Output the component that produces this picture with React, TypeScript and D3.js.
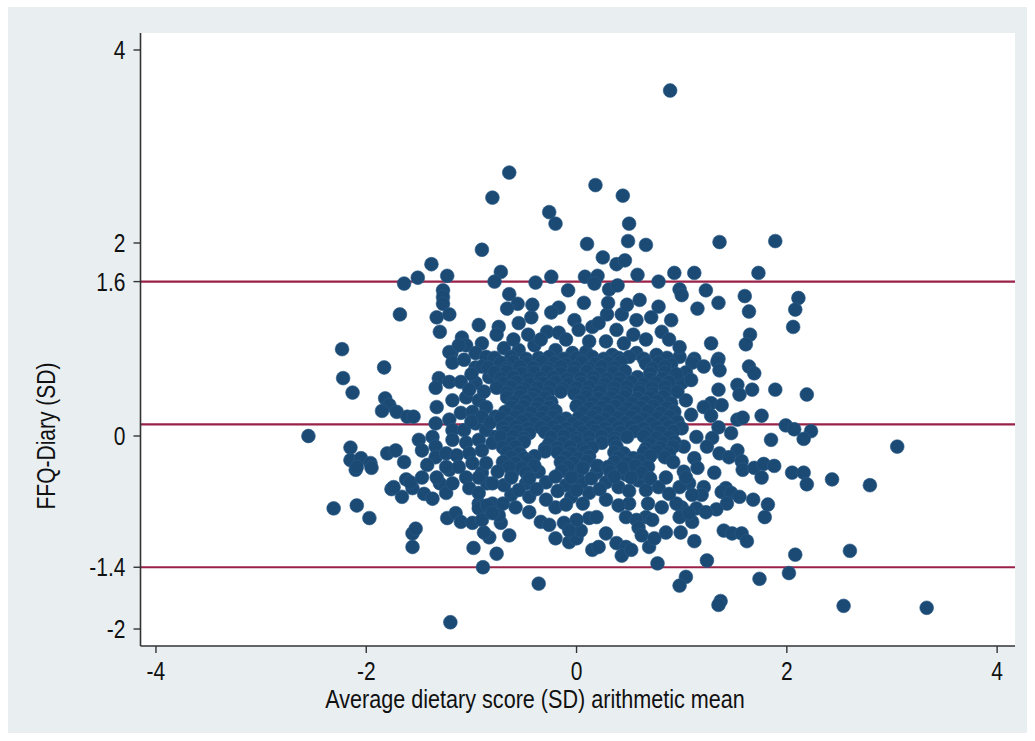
import * as d3 from 'd3';

// each pair: [mean of the two methods, FFQ - diary] in SD units
const observations: [number, number][] = [
  // top / upper cloud
  [0.89, 3.58],
  [-0.64, 2.73], [-0.8, 2.47], [0.18, 2.6], [0.44, 2.49], [-0.26, 2.32], [-0.2, 2.2], [0.5, 2.2],
  [0.49, 2.02], [0.1, 1.99], [0.66, 1.98], [-0.9, 1.93], [0.25, 1.85], [0.38, 1.78], [0.46, 1.82],
  [-0.72, 1.7], [-0.78, 1.6], [-0.39, 1.59], [-0.24, 1.65], [0.08, 1.65], [0.2, 1.66], [0.17, 1.58],
  [0.31, 1.52], [0.39, 1.56], [0.58, 1.67], [0.78, 1.6], [0.93, 1.69], [1.12, 1.69], [0.98, 1.52],
  [1.0, 1.46], [-0.08, 1.51], [-0.64, 1.47], [-0.56, 1.37], [-0.66, 1.32], [0.07, 1.38], [0.6, 1.41],
  [0.78, 1.34], [1.15, 1.32], [-0.17, 1.33], [-0.24, 1.28], [-0.02, 1.2], [0.15, 1.13], [0.29, 1.26],
  [0.43, 1.26], [0.57, 1.2], [0.71, 1.23], [-0.93, 1.15], [-0.74, 1.13], [-0.76, 1.05], [-0.43, 1.23],
  [-0.55, 1.17], [-0.28, 1.08], [-0.17, 1.07], [0.02, 1.1], [0.21, 1.17], [0.28, 0.98], [0.45, 0.96],
  [0.81, 1.08], [0.88, 1.0], [0.66, 1.0], [-0.9, 0.96], [-0.69, 0.91], [-0.55, 0.89], [-0.4, 0.94],
  [-0.2, 0.89], [-0.04, 0.86], [0.09, 0.87], [0.34, 0.84], [0.57, 0.86], [0.76, 0.84], [0.98, 0.82],
  [-0.6, 1.0], [-0.46, 1.05], [-0.34, 1.0], [0.12, 0.98], [0.38, 1.1], [0.54, 1.05], [-0.1, 1.0],
  [0.3, 1.38], [0.48, 1.36], [-0.42, 1.36], [0.9, 1.2],
  // upper left
  [-1.38, 1.78], [-1.51, 1.64], [-1.64, 1.58], [-1.23, 1.66], [-1.27, 1.51], [-1.27, 1.44], [-1.27, 1.37],
  [-1.68, 1.26], [-1.33, 1.23], [-1.21, 1.26], [-1.3, 1.08], [-2.23, 0.9], [-1.09, 1.02], [-1.05, 0.94],
  [-1.19, 0.86], [-0.96, 0.86],
  // upper right
  [1.36, 2.01], [1.89, 2.02], [1.73, 1.69], [1.23, 1.51], [1.6, 1.45], [2.11, 1.43], [1.35, 1.38],
  [1.64, 1.29], [2.08, 1.31], [2.06, 1.13], [1.65, 1.05], [1.61, 0.95], [1.28, 0.96], [0.98, 0.92],
  [1.12, 0.8], [1.35, 0.8],
  // right side
  [1.1, 0.76], [1.21, 0.72], [1.34, 0.77], [1.36, 0.68], [1.04, 0.66], [1.0, 0.55], [1.09, 0.58],
  [1.64, 0.72], [1.69, 0.65], [1.53, 0.53], [1.55, 0.43], [1.67, 0.48], [1.89, 0.48], [2.19, 0.43],
  [1.35, 0.48], [1.28, 0.34], [1.38, 0.32], [1.21, 0.3], [1.04, 0.37], [1.09, 0.22], [1.28, 0.21],
  [1.76, 0.21], [1.53, 0.17], [1.58, 0.19], [1.35, 0.09], [1.99, 0.11], [2.07, 0.07], [2.23, 0.05],
  [2.16, -0.03], [1.85, -0.04], [1.47, 0.03], [1.14, -0.01], [1.02, -0.11], [1.29, -0.02], [1.24, -0.11],
  [1.53, -0.15], [1.36, -0.18], [1.45, -0.22], [1.57, -0.26], [1.12, -0.23], [1.15, -0.33], [1.31, -0.38],
  [1.02, -0.37], [1.58, -0.35], [1.69, -0.33], [1.78, -0.29], [1.88, -0.31], [1.76, -0.43], [2.05, -0.38],
  [2.16, -0.38], [2.19, -0.5], [2.43, -0.45], [2.79, -0.51], [3.05, -0.11], [1.21, -0.53], [1.42, -0.54],
  [1.07, -0.49],
  // lower right
  [1.19, -0.61], [1.38, -0.58], [1.47, -0.59], [1.55, -0.63], [1.68, -0.66], [1.82, -0.71], [1.79, -0.84],
  [1.43, -0.7], [1.0, -0.74], [1.14, -0.75], [1.33, -0.76], [1.23, -0.79], [1.1, -0.89], [0.99, -1.0],
  [1.4, -0.98], [1.48, -1.01], [1.57, -1.01], [1.62, -1.09], [1.12, -1.09], [1.24, -1.29], [2.08, -1.23],
  [2.6, -1.19], [2.02, -1.42], [1.74, -1.48], [1.04, -1.46], [0.98, -1.55], [1.37, -1.71], [1.35, -1.75],
  [2.54, -1.76], [3.33, -1.78],
  // lower middle
  [-0.89, -1.36], [-0.76, -1.22], [-0.36, -1.53], [0.77, -1.32], [0.15, -1.18], [0.21, -1.15], [0.28, -1.01],
  [0.38, -1.11], [0.47, -1.15], [0.43, -1.24], [0.52, -1.18], [0.69, -1.15], [-0.2, -1.06], [-0.07, -1.1],
  [0.0, -1.06], [0.04, -0.98], [0.12, -0.85], [-0.83, -1.05], [-0.88, -1.0], [-0.64, -1.03], [-0.72, -0.9],
  [-0.34, -0.89], [-0.26, -0.92], [0.85, -1.0], [0.66, -0.84], [0.72, -0.87], [0.98, -0.84], [0.5, -0.7],
  [0.47, -0.84], [0.57, -0.87], [0.59, -0.95], [0.62, -1.03], [0.74, -1.06], [0.81, -0.74], [0.95, -0.7],
  [1.07, -0.8], [0.28, -0.66], [0.19, -0.84], [0.0, -0.87], [-0.12, -0.9], [-0.07, -0.98], [-0.2, -0.74],
  [-0.45, -0.79], [-0.58, -0.74], [-0.74, -0.82], [-0.88, -0.8], [-0.93, -0.7], [-0.8, -0.7], [-0.62, -0.61],
  [-0.45, -0.63], [-0.29, -0.66], [-0.05, -0.63], [0.12, -0.59], [0.4, -0.53], [0.59, -0.46], [0.78, -0.53],
  [0.98, -0.53], [1.1, -0.61], [-0.85, -0.49], [-0.69, -0.51], [-0.48, -0.49], [-0.29, -0.48], [-0.1, -0.51],
  [0.05, -0.48], [0.28, -0.48], [0.47, -0.4], [0.85, -0.43], [1.04, -0.43], [-0.9, -0.38], [-0.61, -0.38],
  [-0.36, -0.37], [0.02, -0.37], [0.19, -0.38],
  [-0.55, -0.56], [-0.38, -0.55], [-0.18, -0.57], [0.0, -0.56], [0.22, -0.55], [0.5, -0.57], [0.66, -0.56],
  [0.88, -0.6], [-0.7, -0.7], [-0.1, -0.71], [0.06, -0.7], [0.4, -0.72], [0.68, -0.7],
  // lower left
  [-2.1, -0.35], [-1.62, -0.45], [-1.56, -0.54], [-1.76, -0.55], [-1.66, -0.63], [-1.45, -0.6], [-1.37, -0.65],
  [-1.3, -0.49], [-1.24, -0.59], [-1.18, -0.49], [-1.21, -0.35], [-1.05, -0.43], [-1.02, -0.54], [-0.93, -0.59],
  [-0.8, -0.49], [-2.31, -0.75], [-2.09, -0.72], [-1.97, -0.85], [-1.56, -1.01], [-1.53, -0.96], [-1.56, -1.15],
  [-1.23, -0.85], [-1.15, -0.8], [-1.1, -0.89], [-0.99, -0.9], [-0.93, -0.75], [-0.85, -0.72], [-0.9, -0.87],
  [-0.8, -0.8], [-0.98, -1.16], [-1.2, -1.93],
  // left side
  [-1.83, 0.71], [-2.22, 0.6], [-2.13, 0.45], [-1.82, 0.39], [-1.78, 0.32], [-1.85, 0.26], [-1.71, 0.25],
  [-1.61, 0.2], [-1.55, 0.2], [-2.55, 0.0], [-2.15, -0.12], [-2.15, -0.25], [-2.05, -0.23], [-2.09, -0.32],
  [-1.96, -0.28], [-1.95, -0.33], [-1.8, -0.18], [-1.72, -0.15], [-1.64, -0.27], [-1.5, -0.04], [-1.47, -0.15],
  [-1.37, -0.01], [-1.34, -0.11], [-1.34, -0.22], [-1.42, -0.3], [-1.74, -0.53], [-1.58, -0.48], [-1.47, -0.43],
  [-1.33, -0.43], [-1.21, 0.87], [-1.18, 0.76], [-1.07, 0.79], [-0.96, 0.71], [-0.86, 0.82], [-1.12, 0.94],
  [-1.31, 0.6], [-1.34, 0.5], [-1.21, 0.56], [-1.1, 0.56], [-0.96, 0.55], [-0.83, 0.61], [-1.33, 0.3],
  [-1.18, 0.37], [-1.05, 0.4], [-0.93, 0.37], [-1.34, 0.13], [-1.21, 0.17], [-1.1, 0.24], [-0.99, 0.25],
  [-0.86, 0.3], [-0.77, 0.2], [-1.18, 0.06], [-1.07, 0.06], [-0.96, 0.13], [-0.86, 0.06], [-0.77, -0.01],
  [-1.18, -0.04], [-1.05, -0.07], [-0.93, -0.04], [-0.8, -0.07], [-1.24, -0.18], [-1.14, -0.2], [-1.02, -0.18],
  [-0.9, -0.15], [-1.24, -0.32], [-1.12, -0.32], [-0.99, -0.28], [-0.86, -0.28], [-0.93, -0.43],
  [-0.9, 0.72], [-1.0, 0.64], [-0.88, 0.46], [-1.02, 0.48], [-0.9, 0.2], [-1.0, 0.15], [-0.82, 0.14],
  // dense centre
  [-0.78, 0.81], [-0.62, 0.82], [-0.48, 0.8], [-0.36, 0.81], [-0.26, 0.82], [-0.12, 0.8], [0.0, 0.81],
  [0.15, 0.82], [0.26, 0.8], [0.4, 0.81], [0.5, 0.82], [0.64, 0.8], [0.86, 0.81],
  [-0.72, 0.76], [-0.6, 0.77], [-0.47, 0.75], [-0.33, 0.77], [-0.21, 0.76], [-0.1, 0.74], [0.05, 0.77],
  [0.18, 0.75], [0.3, 0.76], [0.42, 0.77], [0.66, 0.75], [0.78, 0.76], [0.9, 0.74],
  [-0.84, 0.71], [-0.66, 0.7], [-0.54, 0.72], [-0.41, 0.71], [-0.27, 0.7], [-0.15, 0.72], [-0.02, 0.71],
  [0.12, 0.7], [0.24, 0.72], [0.36, 0.71], [0.72, 0.7], [0.84, 0.72],
  [-0.78, 0.66], [-0.66, 0.67], [-0.52, 0.65], [-0.4, 0.66], [-0.28, 0.67], [-0.15, 0.65], [-0.03, 0.66],
  [0.1, 0.67], [0.22, 0.65], [0.35, 0.66], [0.46, 0.67], [0.7, 0.65], [0.84, 0.66], [0.95, 0.64],
  [-0.72, 0.6], [-0.6, 0.61], [-0.46, 0.59], [-0.34, 0.6], [-0.22, 0.61], [-0.09, 0.59], [0.04, 0.6],
  [0.16, 0.61], [0.29, 0.59], [0.41, 0.6], [0.58, 0.61], [0.7, 0.59], [0.82, 0.6],
  [-0.7, 0.55], [-0.57, 0.56], [-0.45, 0.54], [-0.32, 0.55], [-0.2, 0.56], [-0.08, 0.54], [0.04, 0.55],
  [0.16, 0.56], [0.27, 0.54], [0.4, 0.55], [0.52, 0.56], [0.64, 0.54], [0.76, 0.55], [0.88, 0.56],
  [-0.76, 0.5], [-0.62, 0.51], [-0.5, 0.49], [-0.37, 0.5], [-0.25, 0.51], [-0.13, 0.49], [0.0, 0.5],
  [0.12, 0.51], [0.24, 0.49], [0.36, 0.5], [0.48, 0.51], [0.6, 0.49], [0.72, 0.5], [0.84, 0.51],
  [-0.66, 0.45], [-0.53, 0.46], [-0.4, 0.44], [-0.27, 0.45], [-0.15, 0.46], [-0.02, 0.44], [0.1, 0.45],
  [0.22, 0.46], [0.35, 0.44], [0.47, 0.45], [0.6, 0.46], [0.72, 0.44], [0.85, 0.45], [0.96, 0.46],
  [-0.66, 0.4], [-0.54, 0.41], [-0.42, 0.39], [-0.3, 0.4], [0.09, 0.41], [0.21, 0.39], [0.33, 0.4],
  [0.46, 0.41], [0.58, 0.39], [0.7, 0.4], [0.83, 0.41],
  [-0.6, 0.35], [-0.48, 0.36], [-0.36, 0.34], [-0.24, 0.35], [0.03, 0.36], [0.15, 0.34], [0.28, 0.35],
  [0.4, 0.36], [0.53, 0.34], [0.65, 0.35], [0.77, 0.36], [0.9, 0.34],
  [-0.62, 0.3], [-0.5, 0.31], [-0.38, 0.29], [-0.26, 0.3], [0.0, 0.31], [0.12, 0.29], [0.24, 0.3],
  [0.37, 0.31], [0.49, 0.29], [0.61, 0.3], [0.73, 0.31], [0.86, 0.29],
  [-0.68, 0.25], [-0.55, 0.26], [-0.43, 0.24], [-0.31, 0.25], [-0.2, 0.26], [0.06, 0.24], [0.19, 0.25],
  [0.31, 0.26], [0.44, 0.24], [0.56, 0.25], [0.68, 0.26], [0.8, 0.24], [0.93, 0.25],
  [-0.72, 0.19], [-0.58, 0.2], [-0.46, 0.18], [-0.34, 0.19], [-0.22, 0.2], [-0.1, 0.18], [0.02, 0.19],
  [0.15, 0.2], [0.27, 0.18], [0.4, 0.19], [0.52, 0.2], [0.64, 0.18], [0.77, 0.19], [0.89, 0.2],
  [-0.64, 0.14], [-0.52, 0.15], [-0.4, 0.13], [-0.28, 0.14], [-0.16, 0.15], [-0.04, 0.13], [0.09, 0.14],
  [0.21, 0.15], [0.34, 0.13], [0.46, 0.14], [0.58, 0.15], [0.71, 0.13], [0.84, 0.14], [0.96, 0.15],
  [-0.7, 0.09], [-0.58, 0.1], [-0.46, 0.08], [-0.34, 0.09], [-0.22, 0.1], [-0.1, 0.08], [0.02, 0.09],
  [0.15, 0.1], [0.27, 0.08], [0.4, 0.09], [0.52, 0.1], [0.64, 0.08], [0.76, 0.09], [0.88, 0.1], [1.0, 0.08],
  [-0.68, 0.04], [-0.56, 0.05], [-0.45, 0.03], [-0.3, 0.04], [-0.18, 0.05], [-0.06, 0.03], [0.06, 0.04],
  [0.18, 0.05], [0.3, 0.03], [0.42, 0.04], [0.55, 0.05], [0.67, 0.03], [0.8, 0.04], [0.92, 0.05],
  [-0.72, -0.01], [-0.6, 0.0], [-0.5, -0.02], [-0.24, -0.01], [-0.12, 0.0], [0.0, -0.02], [0.12, -0.01],
  [0.24, 0.0], [0.36, -0.02], [0.48, -0.01], [0.64, 0.0], [0.76, -0.02], [0.88, -0.01],
  [-0.62, -0.07], [-0.5, -0.06], [-0.26, -0.08], [-0.13, -0.07], [0.0, -0.06], [0.12, -0.08], [0.24, -0.07],
  [0.36, -0.06], [0.7, -0.08], [0.82, -0.07], [0.93, -0.06],
  [-0.7, -0.12], [-0.58, -0.11], [-0.3, -0.13], [-0.18, -0.12], [-0.06, -0.11], [0.06, -0.13], [0.15, -0.12],
  [0.38, -0.11], [0.66, -0.13], [0.8, -0.12], [0.92, -0.11],
  [-0.66, -0.17], [-0.54, -0.18], [-0.3, -0.16], [-0.18, -0.17], [-0.05, -0.18], [0.08, -0.16], [0.36, -0.17],
  [0.45, -0.18], [0.64, -0.17], [0.76, -0.16], [0.88, -0.18],
  [-0.62, -0.22], [-0.5, -0.23], [-0.4, -0.21], [-0.1, -0.22], [0.02, -0.23], [0.12, -0.21], [0.4, -0.22],
  [0.54, -0.23], [0.7, -0.21], [0.84, -0.22],
  [-0.7, -0.27], [-0.58, -0.28], [-0.46, -0.26], [-0.15, -0.27], [-0.03, -0.28], [0.1, -0.26], [0.36, -0.27],
  [0.48, -0.28], [0.6, -0.26], [0.92, -0.27],
  [-0.64, -0.32], [-0.52, -0.33], [-0.4, -0.31], [-0.08, -0.32], [0.06, -0.33], [0.2, -0.31], [0.3, -0.32],
  [0.44, -0.33], [0.56, -0.31], [0.68, -0.32],
  [-0.75, -0.37], [-0.48, -0.38], [-0.14, -0.36], [0.32, -0.37], [0.62, -0.38],
  [-0.62, -0.43], [-0.45, -0.44], [-0.2, -0.42], [-0.05, -0.43], [0.14, -0.44], [0.36, -0.42], [0.52, -0.43],
  [0.7, -0.44],
];

// limits of agreement and mean difference
const agreementLines = [1.6, 0.12, -1.36];

const xTickValues = [-4, -2, 0, 2, 4];
const yTickValues = [4, 2, 1.6, 0, -1.36, -2];
const yTickLabels = ['4', '2', '1.6', '0', '-1.4', '-2'];

const xTitle = 'Average dietary score (SD) arithmetic mean';
const yTitle = 'FFQ-Diary (SD)';

const W = 1035;
const H = 741;
const plot = { left: 140.5, right: 1015, top: 33, bottom: 646 };
const font = '"Liberation Sans", Arial, sans-serif';

export default function App() {
  const x = d3.scaleLinear().domain([-4.147, 4.17]).range([plot.left, plot.right]);
  const y = d3.scaleLinear().domain([-2.176, 4.176]).range([plot.bottom, plot.top]);

  return (
    <svg
      width={W}
      height={H}
      style={{ position: 'absolute', left: 0, top: 0, background: '#fff' }}
    >
      <rect x={8} y={7} width={1019} height={726} fill="#e9eff1" />
      <rect
        x={plot.left}
        y={plot.top}
        width={plot.right - plot.left}
        height={plot.bottom - plot.top}
        fill="#fff"
      />

      {agreementLines.map((v) => (
        <line
          key={'l' + v}
          x1={plot.left}
          x2={plot.right}
          y1={y(v)}
          y2={y(v)}
          stroke="#9a2147"
          strokeWidth={2.2}
        />
      ))}

      <g>
        {observations.map(([mx, diff], i) => (
          <circle
            key={i}
            cx={x(mx)}
            cy={y(diff)}
            r={6.9}
            fill="#1b4a75"
            stroke="#2a5a86"
            strokeWidth={0.6}
          />
        ))}
      </g>

      {/* axes */}
      <line x1={plot.left} x2={plot.left} y1={plot.top} y2={plot.bottom} stroke="#333" strokeWidth={1.6} />
      <line x1={plot.left} x2={plot.right} y1={plot.bottom} y2={plot.bottom} stroke="#333" strokeWidth={1.6} />

      {yTickValues.map((v, i) => (
        <g key={'yt' + i}>
          <line x1={plot.left - 7} x2={plot.left} y1={y(v)} y2={y(v)} stroke="#333" strokeWidth={1.4} />
          <text
            transform={`translate(${plot.left - 15},${y(v)}) scale(1,1.2)`}
            dy="0.36em"
            textAnchor="end"
            fontFamily={font}
            fontSize={21}
            fill="#111"
          >
            {yTickLabels[i]}
          </text>
        </g>
      ))}

      {xTickValues.map((v) => (
        <g key={'xt' + v}>
          <line x1={x(v)} x2={x(v)} y1={plot.bottom} y2={plot.bottom + 7} stroke="#333" strokeWidth={1.4} />
          <text
            transform={`translate(${x(v)},${plot.bottom + 34}) scale(1,1.2)`}
            textAnchor="middle"
            fontFamily={font}
            fontSize={21}
            fill="#111"
          >
            {v}
          </text>
        </g>
      ))}

      <text
        transform={`translate(535,708) scale(1,1.2)`}
        textAnchor="middle"
        fontFamily={font}
        fontSize={21.6}
        fill="#111"
      >
        {xTitle}
      </text>
      <text
        transform={`translate(55,436) rotate(-90) scale(1,1.2)`}
        textAnchor="middle"
        fontFamily={font}
        fontSize={21}
        fill="#111"
      >
        {yTitle}
      </text>
    </svg>
  );
}
